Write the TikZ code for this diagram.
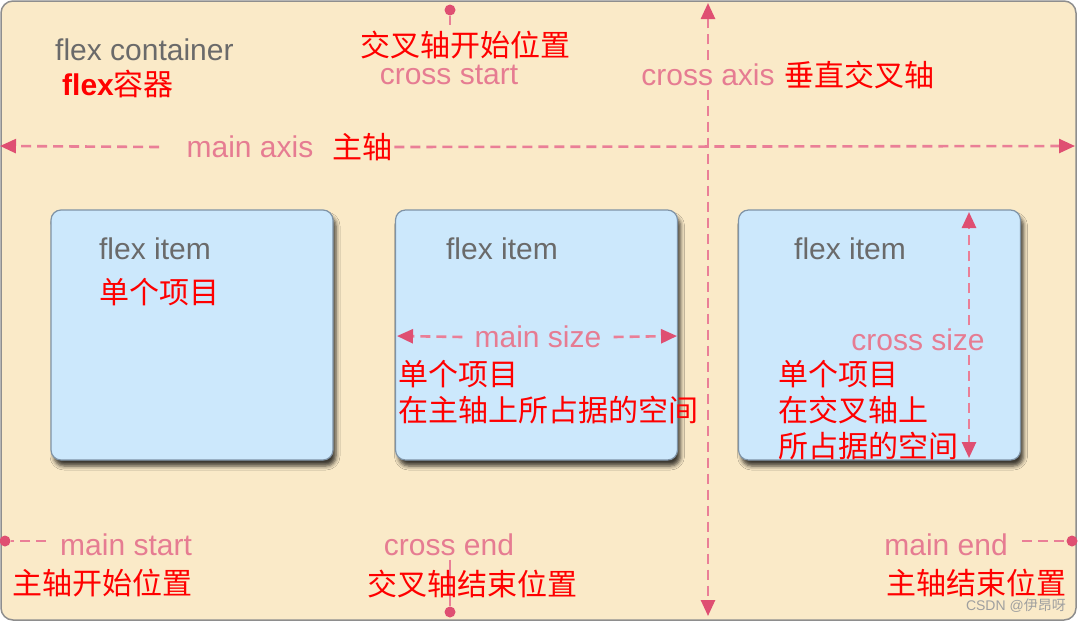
\documentclass[tikz,border=0pt]{standalone}
\usepackage{fontspec}
\setmainfont{Liberation Sans}
\newfontfamily\cjk{Noto Sans CJK SC}
\usetikzlibrary{arrows.meta, positioning, calc, shadows.blur}
\definecolor{fcbg}{HTML}{FAEAC8}
\definecolor{fcedge}{HTML}{8E8E8E}
\definecolor{itemfill}{HTML}{CCE8FC}
\definecolor{itemedge}{HTML}{7F93A6}
\definecolor{itemgray}{HTML}{6A6A6A}
\definecolor{lblpink}{HTML}{E67C92}
\definecolor{linepink}{HTML}{EA7F97}
\definecolor{tippink}{HTML}{DF4F72}
\definecolor{notered}{HTML}{FF0000}
\newcommand\lblfont{\fontsize{30}{34}\selectfont}
\newcommand\notefont{\fontsize{30}{36}\selectfont}
\tikzset{
  container/.style={draw=fcedge, fill=fcbg, line width=1.5pt, rounded corners=12pt},
  itembox/.style={draw=itemedge, fill=itemfill, line width=1.2pt, rounded corners=10pt,
                  minimum width=282pt, minimum height=250pt,
                  blur shadow={shadow xshift=3pt, shadow yshift=-6pt,
                               shadow blur radius=4pt, shadow opacity=75}},
  itemlbl/.style={text=itemgray, font=\lblfont, inner sep=0pt},
  axlbl/.style={text=lblpink, font=\lblfont},
  note/.style={text=notered, font=\cjk\notefont, inner sep=0pt, anchor=west},
  axisarr/.style={draw=linepink, line width=2.6pt, dash pattern=on 10pt off 6pt,
                  -{Triangle[length=16pt, width=14pt, color=tippink]}},
  tickline/.style={draw=linepink, line width=2.6pt, dash pattern=on 10pt off 6pt},
  stubline/.style={draw=linepink, line width=2.6pt},
  enddot/.style={circle, fill=tippink, inner sep=0pt, minimum size=11pt},
}

\begin{document}
\begin{tikzpicture}[x=1pt, y=-1pt]
    \useasboundingbox (0,0) rectangle (1078,622);
    \fill[white] (0,0) rectangle (1078,622);
    \draw[container] (1,1) rectangle (1076,620);

    % flex items
    \node[itembox] (item1) at (192,335) {};
    \node[itembox] (item2) at (536.5,335) {};
    \node[itembox] (item3) at (879.5,335) {};
    \node[itemlbl] (lbl1) at (155,249) {flex item};
    \node[itemlbl] (lbl2) at (502,249) {flex item};
    \node[itemlbl] (lbl3) at (850,249) {flex item};
    \node[itemlbl, anchor=west] (fc) at (55,50) {flex container};

    % main axis
    \node[axlbl] (ma) at (250,147) {main axis};
    \node[note] (manote) at (332,147) {主轴};
    \coordinate (maL) at (0,146);
    \coordinate (maR) at (1075,146);
    \draw[axisarr] ([xshift=-24pt]ma.west) -- (maL);
    \draw[axisarr] ([xshift=2pt]manote.east) -- (maR);

    % cross axis
    \node[axlbl] (ca) at (708,75) {cross axis};
    \coordinate (caT) at (708,3);
    \coordinate (caB) at (708,616);
    \draw[axisarr] (ca.north) -- (caT);
    \draw[axisarr] (ca.south) -- (caB);

    % cross start / cross end
    \node[axlbl] (cs) at (449,75) {cross start};
    \node[enddot] (csdot) at (450,10) {};
    \coordinate (csstub) at (450,25);
    \draw[stubline] (csdot) -- (csstub);
    \node[axlbl] (ce) at (449,545) {cross end};
    \node[enddot] (cedot) at (450,612) {};
    \draw[stubline] (ce.south -| cedot) -- (cedot);

    % main start / main end
    \node[enddot] (msdot) at (5,541) {};
    \node[axlbl, anchor=west, inner sep=14pt] (mst) at (46,545) {main start};
    \draw[tickline] (mst.west |- msdot) -- (msdot);
    \node[axlbl, anchor=east, inner sep=14pt] (me) at (1022,545) {main end};
    \node[enddot] (medot) at (1072,541) {};
    \draw[tickline] (me.east |- medot) -- (medot);

    % main size / cross size
    \node[axlbl, inner sep=12pt] (msz) at (538,337) {main size};
    \coordinate (mszL) at (397,336);
    \coordinate (mszR) at (677,336);
    \draw[axisarr] (msz.west) -- (mszL);
    \draw[axisarr] (msz.east) -- (mszR);
    \node[axlbl] (csz) at (918,340) {cross size};
    \coordinate (cszT) at (969,212);
    \coordinate (cszB) at (969,458);
    \draw[axisarr] (csz.north -| cszT) -- (cszT);
    \draw[axisarr] (csz.south -| cszB) -- (cszB);

    % notes
    \node[note] (fcnote) at (62,84) {{\normalfont\notefont\bfseries flex}容器};
    \node[note] (csnote) at (360,45) {交叉轴开始位置};
    \node[note] (canote) at (784,75) {垂直交叉轴};
    \node[note] (n1a) at (99,292) {单个项目};
    \node[note] (n2a) at (398,374) {单个项目};
    \node[note] (n2b) at (398,410) {在主轴上所占据的空间};
    \node[note] (n3a) at (778,374) {单个项目};
    \node[note] (n3b) at (778,410) {在交叉轴上};
    \node[note] (n3c) at (778,446) {所占据的空间};
    \node[note] (msnote) at (12,583) {主轴开始位置};
    \node[note] (cenote) at (367,584) {交叉轴结束位置};
    \node[note] (menote) at (886,583) {主轴结束位置};
    \node[anchor=east, text=gray!75, font=\fontsize{14}{16}\selectfont, inner sep=0pt]
      (wm) at (1066,606) {CSDN @{\cjk 伊昂呀}};
\end{tikzpicture}
\end{document}
